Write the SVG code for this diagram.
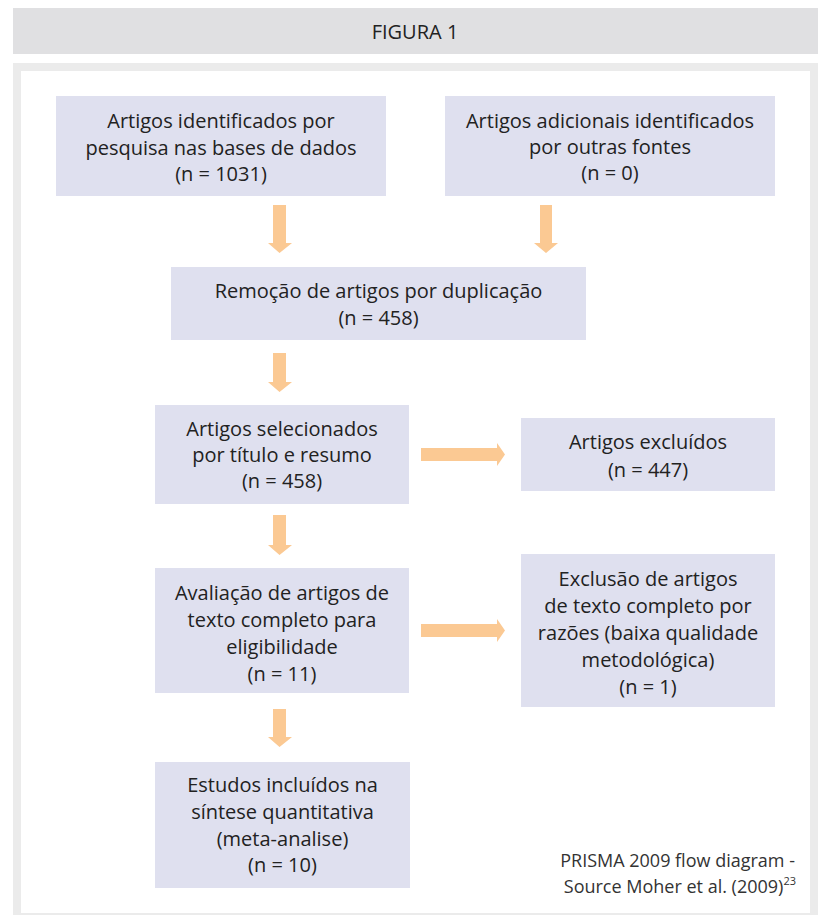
<svg xmlns="http://www.w3.org/2000/svg" width="818" height="915" viewBox="0 0 818 915">
<defs>
<style>
.box{fill:#dfe0ef}
.t{font-family:"Open Sans","Liberation Sans",sans-serif;font-size:20px;fill:#222;text-anchor:middle}
.arr{fill:#fbc993}
.note{font-family:"Open Sans","Liberation Sans",sans-serif;font-size:18px;fill:#333;text-anchor:end}
</style>
</defs>
<rect x="0" y="0" width="818" height="915" fill="#ffffff"/>
<g id="header">
<rect x="13" y="8" width="805" height="46" fill="#e0e0e2"/>
<text x="415" y="39" font-family="Open Sans, Liberation Sans, sans-serif" font-size="20" fill="#222" text-anchor="middle">FIGURA 1</text>
</g>
<g id="frame">
<rect x="13" y="63" width="805" height="852" fill="#ebebeb"/>
<rect x="21" y="71" width="789" height="842" fill="#ffffff"/>
</g>
<g id="connectors">
<path class="arr" d="M273 205H286V243H292L279.5 253L268 243H273Z"/>
<path class="arr" d="M540 205H552V243H558L546 253L534 243H540Z"/>
<path class="arr" d="M273 353H286V382H292L279.5 392L268 382H273Z"/>
<path class="arr" d="M273 515H286V545H292L279.5 555L268 545H273Z"/>
<path class="arr" d="M273 709H286V737H292L279.5 747L268 737H273Z"/>
<path class="arr" d="M421 448V461H497V466L505 454.5L497 443V448Z"/>
<path class="arr" d="M421 624V637H497V642L505 630.5L497 619V624Z"/>
</g>
<g id="n1">
<rect class="box" x="56" y="96" width="330" height="100"/>
<text class="t" x="221" y="128">Artigos identificados por</text>
<text class="t" x="221" y="155">pesquisa nas bases de dados</text>
<text class="t" x="221" y="181">(n = 1031)</text>
</g>
<g id="n2">
<rect class="box" x="445" y="96" width="330" height="100"/>
<text class="t" x="610" y="128">Artigos adicionais identificados</text>
<text class="t" x="610" y="154">por outras fontes</text>
<text class="t" x="610" y="180">(n = 0)</text>
</g>
<g id="n3">
<rect class="box" x="171" y="267" width="415" height="73"/>
<text class="t" x="378.5" y="298">Remoção de artigos por duplicação</text>
<text class="t" x="378.5" y="325">(n = 458)</text>
</g>
<g id="n4">
<rect class="box" x="155" y="405" width="254" height="99"/>
<text class="t" x="282" y="436">Artigos selecionados</text>
<text class="t" x="282" y="462">por título e resumo</text>
<text class="t" x="282" y="488">(n = 458)</text>
</g>
<g id="n5">
<rect class="box" x="521" y="418" width="254" height="73"/>
<text class="t" x="648" y="449">Artigos excluídos</text>
<text class="t" x="648" y="477">(n = 447)</text>
</g>
<g id="n6">
<rect class="box" x="155" y="568" width="254" height="125"/>
<text class="t" x="282" y="600">Avaliação de artigos de</text>
<text class="t" x="282" y="627">texto completo para</text>
<text class="t" x="282" y="654">eligibilidade</text>
<text class="t" x="282" y="681">(n = 11)</text>
</g>
<g id="n7">
<rect class="box" x="521" y="554" width="254" height="153"/>
<text class="t" x="648" y="586">Exclusão de artigos</text>
<text class="t" x="648" y="613">de texto completo por</text>
<text class="t" x="648" y="640">razões (baixa qualidade</text>
<text class="t" x="648" y="667">metodológica)</text>
<text class="t" x="648" y="694">(n = 1)</text>
</g>
<g id="n8">
<rect class="box" x="155" y="762" width="255" height="126"/>
<text class="t" x="282.5" y="792">Estudos incluídos na</text>
<text class="t" x="282.5" y="819">síntese quantitativa</text>
<text class="t" x="282.5" y="846">(meta-analise)</text>
<text class="t" x="282.5" y="872">(n = 10)</text>
</g>
<g id="note">
<text class="note" x="795" y="867">PRISMA 2009 flow diagram -</text>
<text class="note" x="796" y="893">Source Moher et al. (2009)<tspan font-size="11" dy="-8">23</tspan></text>
</g>
</svg>
